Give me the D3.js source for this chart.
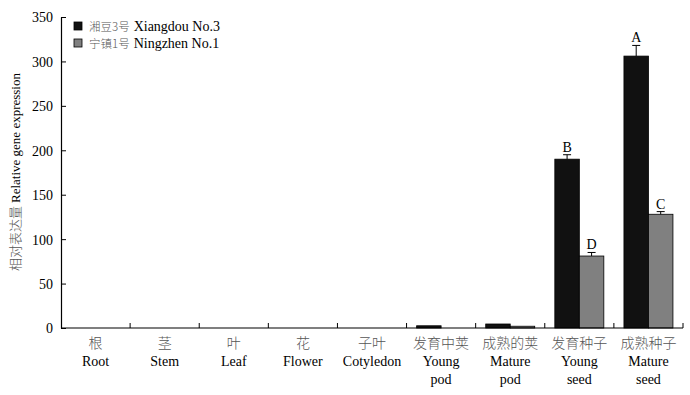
<!DOCTYPE html>
<html><head><meta charset="utf-8">
<script src="https://cdn.jsdelivr.net/npm/d3@7"></script>
<style>
body{margin:0;background:#fff}
svg text{font-family:"Liberation Serif","Times New Roman","DejaVu Serif",serif;}
svg text .zh, svg text.zh{font-family:"Noto Sans CJK SC",sans-serif;font-weight:300;fill:#555;}
</style></head>
<body><svg id="c" width="690" height="395"></svg>
<script>
const catsZh = ["根","茎","叶","花","子叶","发育中荚","成熟的荚","发育种子","成熟种子"];
const catsEn = [["Root"],["Stem"],["Leaf"],["Flower"],["Cotyledon"],["Young","pod"],["Mature","pod"],["Young","seed"],["Mature","seed"]];
const seriesNames = [["湘豆3号","Xiangdou No.3"],["宁镇1号","Ningzhen No.1"]];
const xiangdou = [0,0,0,0,0,2.5,4.5,190,306];
const xiangdouErr = [0,0,0,0,0,0,0,5,12];
const ningzhen = [0,0,0,0,0,0,2,81,128];
const ningzhenErr = [0,0,0,0,0,0,0,4,3];
const xiangdouSig = ["","","","","","","","B","A"];
const ningzhenSig = ["","","","","","","","D","C"];
const yTicks = [0,50,100,150,200,250,300,350];
const colors = ["#111111","#808080"];

const svg = d3.select("#c");
const m = {l:61, r:683, t:17, b:328};
const x = d3.scaleBand().domain(d3.range(catsZh.length)).range([m.l,m.r]).paddingInner(0).paddingOuter(0);
const y = d3.scaleLinear().domain([0,350]).range([m.b,m.t]);
const barW = 24.5;
const series = [
  {vals:xiangdou, err:xiangdouErr, sig:xiangdouSig, color:colors[0], off:-barW},
  {vals:ningzhen, err:ningzhenErr, sig:ningzhenSig, color:colors[1], off:0}
];
series.forEach(s=>{
  const g = svg.append("g");
  s.vals.forEach((v,i)=>{
    if(v<=0) return;
    const cx = x(i)+x.bandwidth()/2;
    const bx = cx + s.off;
    g.append("rect").attr("x",bx).attr("y",y(v)).attr("width",barW).attr("height",y(0)-y(v))
      .attr("fill",s.color).attr("stroke","#000").attr("stroke-width",0.8);
    if(s.err[i]>0){
      const ex = bx+barW/2;
      g.append("line").attr("x1",ex).attr("x2",ex).attr("y1",y(v)).attr("y2",y(v+s.err[i])).attr("stroke","#000").attr("stroke-width",1);
      g.append("line").attr("x1",ex-4).attr("x2",ex+4).attr("y1",y(v+s.err[i])).attr("y2",y(v+s.err[i])).attr("stroke","#000").attr("stroke-width",1);
    }
    if(s.sig[i]){
      g.append("text").attr("x",bx+barW/2).attr("y",y(v+s.err[i])-3).attr("text-anchor","middle")
        .attr("font-size",14).text(s.sig[i]);
    }
  });
});

// y axis
const ya = svg.append("g").attr("transform",`translate(${m.l},0)`)
  .call(d3.axisLeft(y).tickValues(yTicks).tickSizeInner(-5).tickSizeOuter(0).tickPadding(8));
ya.attr("font-family",null).attr("font-size",null);
ya.select(".domain").attr("stroke","#000").attr("stroke-width",1.2);
ya.selectAll(".tick line").attr("stroke","#000");
ya.selectAll(".tick text").attr("font-size",14).attr("fill","#000").attr("dy","0.35em");

// x axis
const xa = svg.append("g").attr("transform",`translate(0,${m.b})`);
xa.append("line").attr("x1",m.l).attr("x2",m.r).attr("y1",0).attr("y2",0).attr("stroke","#000").attr("stroke-width",1.2);
const bounds = d3.range(1,catsZh.length+1).map(i=> i<catsZh.length ? x(i) : m.r);
xa.selectAll("line.tk").data(bounds).join("line").attr("class","tk")
  .attr("x1",d=>d).attr("x2",d=>d).attr("y1",0).attr("y2",-5).attr("stroke","#000");
catsZh.forEach((c,i)=>{
  const cx = x(i)+x.bandwidth()/2;
  xa.append("text").attr("class","zh").attr("x",cx).attr("y",20).attr("text-anchor","middle").attr("font-size",14).text(c);
  catsEn[i].forEach((t,j)=>{
    xa.append("text").attr("x",cx).attr("y",38+j*18).attr("text-anchor","middle").attr("font-size",14).text(t);
  });
});

// y label
svg.append("text").attr("transform","translate(20,172) rotate(-90)").attr("text-anchor","middle").attr("font-size",13)
  .call(t=>{
    t.append("tspan").attr("class","zh").text("相对表达量");
    t.append("tspan").attr("dx",3).text("Relative gene expression");
  });

// legend
seriesNames.forEach((n,i)=>{
  const ly = 22 + i*17;
  svg.append("rect").attr("x",74).attr("y",ly).attr("width",8).attr("height",8).attr("fill",colors[i]).attr("stroke","#000").attr("stroke-width",0.8);
  const zh = svg.append("text").attr("class","zh").attr("x",89).attr("y",ly+8.5).attr("font-size",11.5).text(n[0]);
  const w = zh.node().getComputedTextLength();
  svg.append("text").attr("x",89+w+4).attr("y",ly+8.5).attr("font-size",14).text(n[1]);
});
</script></body></html>
